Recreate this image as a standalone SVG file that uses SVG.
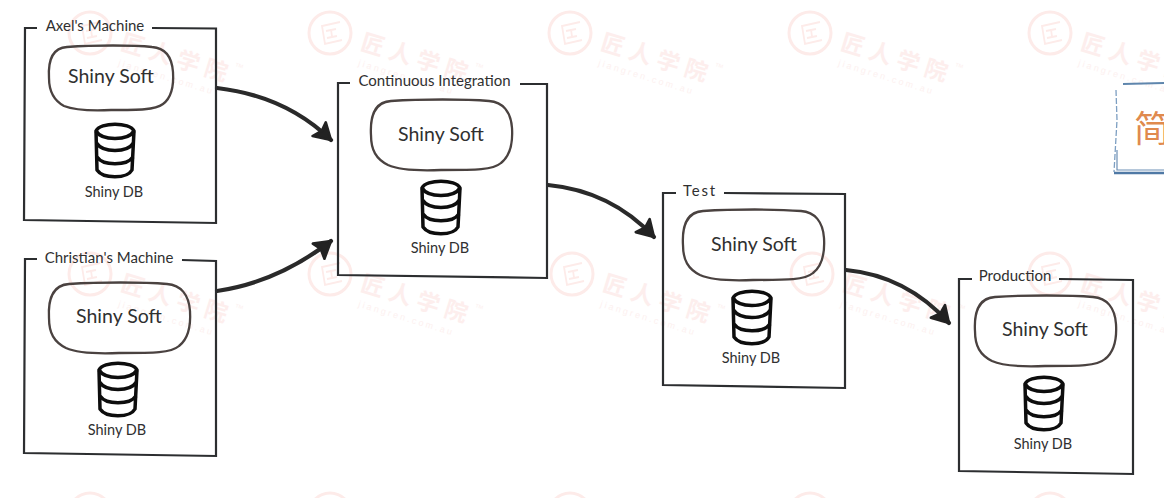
<svg xmlns="http://www.w3.org/2000/svg" width="1164" height="498" viewBox="0 0 1164 498">
<style>
text{font-family:"Lato","Noto Sans","Liberation Sans",sans-serif;fill:#303030}
.t{font-size:15px;text-anchor:middle}
.s{font-size:19.5px;text-anchor:middle}
.d{font-size:14.5px;text-anchor:middle}
.box{fill:none;stroke:#2c2e30;stroke-width:2.2;stroke-linejoin:miter;stroke-linecap:butt}
.soft{fill:none;stroke:#4a4240;stroke-width:2.3}
.db{fill:#fff;stroke:#0d0d0d;stroke-width:3.5;stroke-linejoin:round}
.line{fill:none;stroke:#2a2a2a;stroke-width:4.2;stroke-linecap:round}
.wm{fill:none;stroke:#fdebe9;stroke-width:3}
.wt{font-family:"Noto Sans CJK SC",sans-serif;font-size:23px;font-weight:700;letter-spacing:6px;fill:#fdeeed}
.wu{font-family:"Liberation Sans",sans-serif;font-size:9px;letter-spacing:2.4px;fill:#fdf1f0}
</style>
<defs>
<marker id="ah" markerUnits="userSpaceOnUse" markerWidth="26" markerHeight="26" refX="18" refY="11" orient="auto">
<path d="M2 2 L18 11 L2 21 L5 11 Z" fill="#222" stroke="#222" stroke-width="2.6" stroke-linejoin="round"/>
</marker>
<path id="soft140" class="soft" d="M20 1 C50 -1 95 -1 118 1 C132 2 140 12 141 28 C142 44 139 56 130 63 C122 70 105 70 70 70 C45 71 28 70 17 65 C5 59 0 50 0 35 C-1 18 3 2 20 1 Z"/>
<g id="dbicon">
<path class="db" d="M-19 -20 C-15 -29 15 -29 19 -20 L17 19 C12 28 -12 28 -18 19 Z"/>
<path class="db" d="M-19 -20 C-13 -10 13 -10 19 -20 M-18.500 -8 C-12 2 12 2 18.500 -8 M-18 6 C-12 15 12 15 18 6" style="fill:none"/>
</g>
<g id="wmark">
<circle class="wm" cx="0" cy="0" r="21"/>
<path class="wm" d="M10 -11 L-8 -7 L-5 11 L12 7 M-4 -2 L6 -4 M1 -4 L2 4 M-3 5 L7 3" style="stroke-width:1.8"/>
<g transform="rotate(17)">
<text class="wt" x="33" y="7">匠人学院</text>
<text class="wu" x="36" y="23">jiangren.com.au</text>
<text class="wu" x="148" y="-8">™</text>
</g>
</g>
</defs>
<g id="watermarks">
<use href="#wmark" x="90" y="33"/><use href="#wmark" x="330" y="33"/><use href="#wmark" x="570" y="33"/><use href="#wmark" x="810" y="33"/><use href="#wmark" x="1050" y="33"/>
<use href="#wmark" x="90" y="274"/><use href="#wmark" x="330" y="274"/><use href="#wmark" x="572" y="274"/><use href="#wmark" x="812" y="274"/><use href="#wmark" x="1050" y="274"/>
<use href="#wmark" x="90" y="514"/><use href="#wmark" x="330" y="514"/><use href="#wmark" x="570" y="514"/><use href="#wmark" x="810" y="514"/><use href="#wmark" x="1050" y="514"/>
</g>
<g id="connectors">
<path class="line" marker-end="url(#ah)" d="M217 88 C260 93 298 108 331 140"/>
<path class="line" marker-end="url(#ah)" d="M217 291 C258 285 296 268 331 241"/>
<path class="line" marker-end="url(#ah)" d="M548 185 C590 189 625 206 654 237"/>
<path class="line" marker-end="url(#ah)" d="M846 270 C888 274 922 293 949 323"/>
</g>
<g id="axel">
<path class="box" d="M37 28 L25 28 L24 220 L216 223 L216 28.500 L152 28"/>
<text class="t" x="95" y="31">Axel's Machine</text>
<path class="soft" transform="translate(49 46)" d="M18 1 C45 -1 85 -1 103 1 C117 2 123 12 124 26 C125 41 122 52 114 58 C106 64 90 64 62 64 C40 65 25 64 15 60 C4 54 0 45 0 32 C-1 16 3 2 18 1 Z"/>
<text class="s" x="111" y="83">Shiny Soft</text>
<use href="#dbicon" x="115" y="151"/>
<text class="d" x="114" y="197">Shiny DB</text>
</g>
<g id="christian">
<path class="box" d="M37 259 L25 259 L24 453 L216 456 L216 261 L182 260"/>
<text class="t" x="109" y="263">Christian's Machine</text>
<use href="#soft140" x="49" y="283"/>
<text class="s" x="119" y="323">Shiny Soft</text>
<use href="#dbicon" x="118" y="390"/>
<text class="d" x="117" y="435">Shiny DB</text>
</g>
<g id="ci">
<path class="box" d="M350 83 L338 83 L338 275 L547 278 L547 84 L520 84"/>
<text class="t" x="434.500" y="86">Continuous Integration</text>
<use href="#soft140" x="371" y="100"/>
<text class="s" x="441" y="141">Shiny Soft</text>
<use href="#dbicon" x="441" y="208"/>
<text class="d" x="440" y="253">Shiny DB</text>
</g>
<g id="test">
<path class="box" d="M676 193 L663 193 L663 385 L845 388 L845 194 L724 193"/>
<text class="t" x="700" y="196" style="letter-spacing:1.800px">Test</text>
<use href="#soft140" x="683" y="210"/>
<text class="s" x="754" y="251">Shiny Soft</text>
<use href="#dbicon" x="752" y="318"/>
<text class="d" x="751" y="363">Shiny DB</text>
</g>
<g id="production">
<path class="box" d="M972 279 L959 279 L959 471 L1133 474 L1133 280 L1059 279"/>
<text class="t" x="1015" y="281">Production</text>
<use href="#soft140" x="975" y="296"/>
<text class="s" x="1045" y="336">Shiny Soft</text>
<use href="#dbicon" x="1044" y="404"/>
<text class="d" x="1043" y="449">Shiny DB</text>
</g>
<g id="title">
<path d="M1123 84 L1164 83" fill="none" stroke="#5f86ad" stroke-width="2.200"/>
<path d="M1116 90 L1117 120 L1114 172" fill="none" stroke="#7d9fc2" stroke-width="1.300" stroke-dasharray="6 2"/>
<path d="M1117 150 L1117 170 L1164 170" fill="none" stroke="#6d8fb5" stroke-width="1.200"/>
<path d="M1114 173 L1164 173" fill="none" stroke="#4f79a5" stroke-width="2.600"/>
<text x="1134" y="142" style="font-family:'Noto Sans CJK SC',sans-serif;font-size:36px;fill:#e08a4e">简</text>
</g>
</svg>
